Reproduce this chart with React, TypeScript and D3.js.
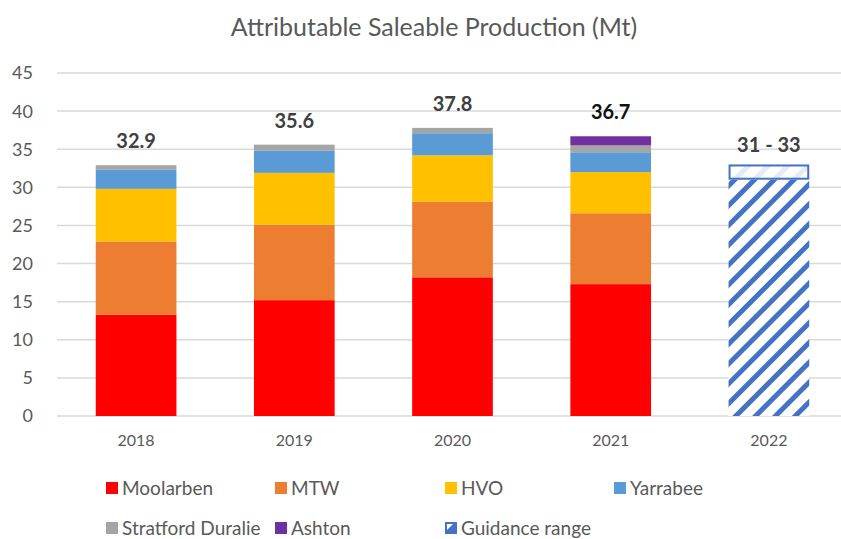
import React, { useRef, useEffect } from "react";
import * as d3 from "d3";

const years = ["2018", "2019", "2020", "2021", "2022"];
const moolarben = [13.3, 15.2, 18.2, 17.3, 0];
const mtw = [9.6, 9.9, 9.9, 9.3, 0];
const hvo = [6.9, 6.8, 6.1, 5.4, 0];
const yarrabee = [2.5, 2.9, 2.9, 2.6, 0];
const stratford = [0.6, 0.8, 0.7, 0.9, 0];
const ashton = [0, 0, 0, 1.2, 0];
const guidanceLow = [0, 0, 0, 0, 31];
const guidanceHigh = [0, 0, 0, 0, 33];
const totalLabels = ["32.9", "35.6", "37.8", "36.7", "31 - 33"];
const yTicks = [0, 5, 10, 15, 20, 25, 30, 35, 40, 45];

const seriesNames = ["Moolarben", "MTW", "HVO", "Yarrabee", "Stratford Duralie", "Ashton"];
const seriesColors = ["#ff0000", "#ed7d31", "#ffc000", "#5b9bd5", "#a5a5a5", "#7030a0"];

const FONT = "Lato, 'Open Sans', sans-serif";

function App() {
  const ref = useRef<SVGSVGElement>(null);

  useEffect(() => {
    const svg = d3.select(ref.current);
    svg.selectAll("*").remove();

    const width = 841;
    const margin = { top: 73, left: 57, bottom: 416 };

    const x = d3.scaleBand().domain(years).range([margin.left, 848]).paddingInner(0.49).paddingOuter(0.245);
    const y = d3.scaleLinear().domain([0, 45]).range([margin.bottom, margin.top]);

    const defs = svg.append("defs");
    const hatch = defs
      .append("pattern")
      .attr("id", "hatch")
      .attr("patternUnits", "userSpaceOnUse")
      .attr("width", 14)
      .attr("height", 14)
      .attr("patternTransform", "rotate(45)");
    hatch.append("rect").attr("width", 14).attr("height", 14).attr("fill", "#fff");
    hatch.append("rect").attr("x", 0).attr("width", 5).attr("height", 14).attr("fill", "#4472c4");

    const hatchLight = defs
      .append("pattern")
      .attr("id", "hatchLight")
      .attr("patternUnits", "userSpaceOnUse")
      .attr("width", 14)
      .attr("height", 14)
      .attr("patternTransform", "rotate(45)");
    hatchLight.append("rect").attr("width", 14).attr("height", 14).attr("fill", "#fff");
    hatchLight.append("rect").attr("x", 0).attr("width", 5).attr("height", 14).attr("fill", "#e3ecf8");

    // title
    svg
      .append("text")
      .attr("x", 434)
      .attr("y", 36)
      .attr("text-anchor", "middle")
      .style("font-family", FONT)
      .style("font-size", "25px")
      .style("fill", "#595959")
      .text("Attributable Saleable Production (Mt)");

    // gridlines
    svg
      .append("g")
      .selectAll("line")
      .data(yTicks)
      .enter()
      .append("line")
      .attr("x1", margin.left)
      .attr("x2", width)
      .attr("y1", (d) => y(d))
      .attr("y2", (d) => y(d))
      .attr("stroke", "#d9d9d9")
      .attr("stroke-width", 1.5);

    svg
      .append("g")
      .selectAll("text")
      .data(yTicks)
      .enter()
      .append("text")
      .attr("x", 33)
      .attr("y", (d) => y(d))
      .attr("dy", "0.36em")
      .attr("text-anchor", "end")
      .style("font-family", FONT)
      .style("font-size", "18px")
      .style("fill", "#595959")
      .text((d) => d);

    // stacked bars
    const table = years.map((yr, i) => ({
      year: yr,
      Moolarben: moolarben[i],
      MTW: mtw[i],
      HVO: hvo[i],
      Yarrabee: yarrabee[i],
      "Stratford Duralie": stratford[i],
      Ashton: ashton[i],
    }));
    const stacked = d3.stack<any>().keys(seriesNames)(table);

    svg
      .append("g")
      .selectAll("g")
      .data(stacked)
      .enter()
      .append("g")
      .attr("fill", (d, i) => seriesColors[i])
      .selectAll("rect")
      .data((d) => d.filter((p) => p[1] - p[0] > 0))
      .enter()
      .append("rect")
      .attr("x", (d: any) => x(d.data.year)!)
      .attr("width", x.bandwidth())
      .attr("y", (d) => y(d[1]))
      .attr("height", (d) => y(d[0]) - y(d[1]));

    // guidance range bar
    years.forEach((yr, i) => {
      if (guidanceHigh[i] <= 0) return;
      svg
        .append("rect")
        .attr("x", x(yr)!)
        .attr("width", x.bandwidth())
        .attr("y", y(guidanceLow[i]))
        .attr("height", y(0) - y(guidanceLow[i]))
        .attr("fill", "url(#hatch)");
      svg
        .append("rect")
        .attr("x", x(yr)! + 1)
        .attr("width", x.bandwidth() - 2)
        .attr("y", y(guidanceHigh[i]) + 1)
        .attr("height", y(guidanceLow[i]) - y(guidanceHigh[i]) - 2)
        .attr("fill", "url(#hatchLight)")
        .attr("stroke", "#4472c4")
        .attr("stroke-width", 2);
    });

    // totals
    const totals = years.map((yr, i) =>
      Math.max(moolarben[i] + mtw[i] + hvo[i] + yarrabee[i] + stratford[i] + ashton[i], guidanceHigh[i])
    );
    svg
      .append("g")
      .selectAll("text")
      .data(years)
      .enter()
      .append("text")
      .attr("x", (d) => x(d)! + x.bandwidth() / 2)
      .attr("y", (d, i) => y(totals[i]) - (guidanceHigh[i] > 0 ? 12 : 17))
      .attr("text-anchor", "middle")
      .style("font-family", FONT)
      .style("font-size", "20px")
      .style("font-weight", "bold")
      .style("fill", (d) => (d === "2021" ? "#111" : "#404040"))
      .text((d, i) => totalLabels[i]);

    // x labels
    svg
      .append("g")
      .selectAll("text")
      .data(years)
      .enter()
      .append("text")
      .attr("x", (d) => x(d)! + x.bandwidth() / 2)
      .attr("y", 446)
      .attr("text-anchor", "middle")
      .style("font-family", FONT)
      .style("font-size", "16px")
      .style("fill", "#595959")
      .text((d) => d);

    // legend
    const legendItems = [...seriesNames, "Guidance range"];
    const legendPos = [
      [106, 488],
      [275, 488],
      [445, 488],
      [614, 488],
      [106, 528],
      [275, 528],
      [445, 528],
    ];
    const legend = svg
      .append("g")
      .selectAll("g")
      .data(legendItems)
      .enter()
      .append("g")
      .attr("transform", (d, i) => `translate(${legendPos[i][0]},${legendPos[i][1]})`);
    legend
      .append("rect")
      .attr("x", 0)
      .attr("y", -6)
      .attr("width", 12)
      .attr("height", 12)
      .attr("fill", (d, i) => (i < seriesColors.length ? seriesColors[i] : "#4472c4"));
    legend
      .filter((d) => d === "Guidance range")
      .append("path")
      .attr("d", "M2,-4 h6 l-6,6 z")
      .attr("fill", "#fff");
    legend
      .append("text")
      .attr("x", 16)
      .attr("y", 0)
      .attr("dy", "0.36em")
      .style("font-family", FONT)
      .style("font-size", "19px")
      .style("fill", "#595959")
      .text((d) => d);
  }, []);

  return <svg ref={ref} width={841} height={539} style={{ position: "absolute", left: 0, top: 0 }} />;
}

export default App;
